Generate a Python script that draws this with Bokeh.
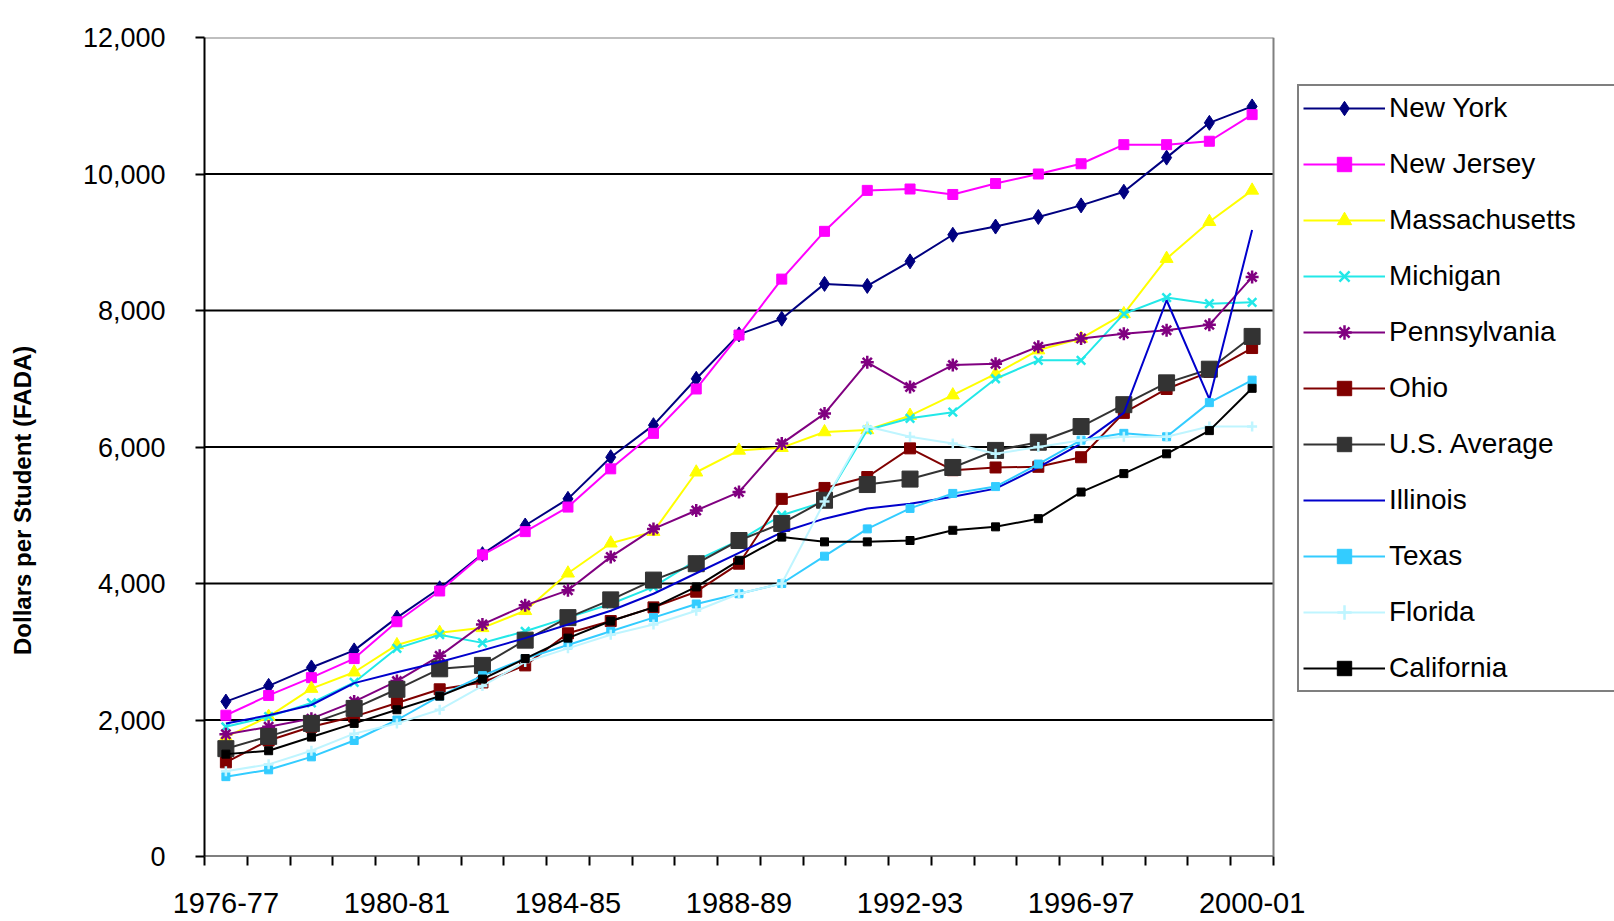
from bokeh.plotting import figure
from bokeh.models import (FixedTicker, CustomJSTickFormatter, Legend, LegendItem,
                          NumeralTickFormatter, Range1d, ColumnDataSource)
from bokeh.embed import file_html
from bokeh.resources import INLINE

years = ["1976-77", "1977-78", "1978-79", "1979-80", "1980-81", "1981-82", "1982-83",
         "1983-84", "1984-85", "1985-86", "1986-87", "1987-88", "1988-89", "1989-90",
         "1990-91", "1991-92", "1992-93", "1993-94", "1994-95", "1995-96", "1996-97",
         "1997-98", "1998-99", "1999-00", "2000-01"]
y_ticks = [0, 2000, 4000, 6000, 8000, 10000, 12000]

new_york = [2270, 2500, 2770, 3020, 3500, 3930, 4430, 4850, 5240, 5850, 6320, 7000, 7650,
            7880, 8390, 8360, 8720, 9110, 9230, 9370, 9540, 9740, 10240, 10750, 10990]
new_jersey = [2070, 2360, 2620, 2900, 3440, 3890, 4420, 4760, 5120, 5680, 6200, 6850, 7640,
              8460, 9160, 9760, 9780, 9700, 9860, 10000, 10150, 10430, 10430, 10480, 10870]
massachusetts = [1750, 2050, 2460, 2700, 3100, 3280, 3350, 3600, 4150, 4590, 4760, 5630, 5950,
                 5990, 6220, 6250, 6460, 6760, 7070, 7420, 7590, 7950, 8760, 9300, 9760]
michigan = [1900, 2050, 2250, 2550, 3050, 3250, 3130, 3300, 3500, 3700, 3950, 4340, 4630,
            5000, 5200, 6250, 6420, 6510, 7000, 7270, 7270, 7950, 8190, 8100, 8120]
pennsylvania = [1790, 1900, 2020, 2270, 2570, 2940, 3400, 3680, 3900, 4390, 4800, 5070, 5340,
                6050, 6490, 7240, 6880, 7200, 7220, 7470, 7590, 7660, 7710, 7790, 8490]
ohio = [1380, 1700, 1900, 2050, 2250, 2450, 2550, 2800, 3270, 3450, 3650, 3880, 4290,
        5240, 5400, 5560, 5980, 5660, 5700, 5710, 5850, 6500, 6850, 7100, 7450]
us_average = [1580, 1760, 1950, 2170, 2450, 2750, 2800, 3170, 3500, 3760, 4050, 4290, 4630,
              4880, 5220, 5450, 5530, 5700, 5950, 6070, 6300, 6620, 6940, 7140, 7620]
illinois = [1950, 2070, 2220, 2540, 2700, 2850, 3020, 3200, 3400, 3600, 3850, 4150, 4450,
            4750, 4950, 5100, 5170, 5270, 5390, 5700, 6050, 6500, 8150, 6700, 9180]
texas = [1170, 1270, 1460, 1700, 2000, 2350, 2650, 2900, 3100, 3300, 3500, 3700, 3850,
         4000, 4400, 4800, 5100, 5320, 5420, 5750, 6100, 6200, 6150, 6650, 6980]
florida = [1250, 1350, 1550, 1800, 1950, 2150, 2500, 2850, 3050, 3250, 3400, 3600, 3850,
           4000, 5200, 6300, 6150, 6050, 5900, 6000, 6100, 6150, 6150, 6300, 6300]
california = [1500, 1550, 1750, 1950, 2150, 2350, 2600, 2900, 3200, 3450, 3650, 3950, 4340,
              4680, 4610, 4610, 4630, 4780, 4830, 4950, 5340, 5610, 5900, 6240, 6860]

series = [
    ("New York", new_york, "#000080", "diamond", 15),
    ("New Jersey", new_jersey, "#FF00FF", "square", 10),
    ("Massachusetts", massachusetts, "#FFFF00", "triangle", 13),
    ("Michigan", michigan, "#22E8E8", "x", 12),
    ("Pennsylvania", pennsylvania, "#800080", "asterisk", 13),
    ("Ohio", ohio, "#800000", "square", 11),
    ("U.S. Average", us_average, "#333333", "square", 16),
    ("Illinois", illinois, "#0000CC", None, 0),
    ("Texas", texas, "#33CCFF", "square", 8),
    ("Florida", florida, "#BFF5FF", "cross", 10),
    ("California", california, "#000000", "square", 8),
]

n = len(years)
xs = [i + 0.5 for i in range(n)]

FONT = "Liberation Sans"

W, H = 1614, 921
LEFT, TOP, BOTTOM = 204, 37, 65
PLOT_RIGHT = 1273            # right edge of the drawn plot area (px)
x_max = n * (W - LEFT) / (PLOT_RIGHT - LEFT)   # frame extends to the page edge for the legend

p = figure(width=W, height=H, output_backend="svg", toolbar_location=None,
           x_range=Range1d(0, x_max), y_range=Range1d(0, y_ticks[-1]),
           min_border_left=LEFT, min_border_right=0, min_border_top=TOP,
           min_border_bottom=BOTTOM)
p.background_fill_color = "white"
p.outline_line_color = None

# x axis (labels at category centres, tick marks at category boundaries)
p.xaxis.ticker = FixedTicker(ticks=[i + 0.5 for i in range(0, n, 4)],
                             minor_ticks=list(range(0, n + 1)))
p.xaxis.formatter = CustomJSTickFormatter(args=dict(labels=years),
                                          code="return labels[Math.round(tick - 0.5)];")
p.xaxis.major_tick_out = 0
p.xaxis.major_tick_in = 0
p.xaxis.minor_tick_out = 9
p.xaxis.minor_tick_in = 0
p.xaxis.minor_tick_line_color = "black"
p.xaxis.minor_tick_line_width = 2
p.xaxis.axis_line_color = None
p.xaxis.major_label_text_font = FONT
p.xaxis.major_label_text_font_size = "29px"
p.xaxis.major_label_text_color = "black"
p.xaxis.major_label_standoff = 27

# y axis
p.yaxis.ticker = FixedTicker(ticks=y_ticks)
p.yaxis.formatter = NumeralTickFormatter(format="0,0")
p.yaxis.major_tick_out = 9
p.yaxis.major_tick_in = 0
p.yaxis.minor_tick_out = 0
p.yaxis.minor_tick_in = 0
p.yaxis.major_tick_line_width = 2
p.yaxis.axis_line_color = "black"
p.yaxis.axis_line_width = 2
p.yaxis.major_label_text_font = FONT
p.yaxis.major_label_text_font_size = "27px"
p.yaxis.major_label_text_color = "black"
p.yaxis.major_label_standoff = 30
p.yaxis.axis_label = "Dollars per Student (FADA)" + "\u00a0" * 16
p.yaxis.axis_label_text_font = FONT
p.yaxis.axis_label_text_font_size = "24px"
p.yaxis.axis_label_text_font_style = "bold"
p.yaxis.axis_label_text_color = "black"
p.yaxis.axis_label_standoff = 44

p.xgrid.grid_line_color = None
p.ygrid.grid_line_color = None

# plot-area lines: gridlines, x axis line, top and right borders
mid = y_ticks[1:-1]
p.segment(x0=[0] * len(mid), y0=mid, x1=[n] * len(mid), y1=mid,
          line_color="black", line_width=2)
p.segment(x0=[0], y0=[0], x1=[n], y1=[0], line_color="black", line_width=2)
p.segment(x0=[0, n], y0=[y_ticks[-1], 0], x1=[n, n], y1=[y_ticks[-1], y_ticks[-1]],
          line_color="#808080", line_width=2)

items = []
for name, vals, color, marker, size in series:
    src = ColumnDataSource(dict(x=xs, y=vals))
    rends = [p.line("x", "y", source=src, line_color=color, line_width=2)]
    if marker is not None:
        if marker in ("x", "asterisk", "cross"):
            r = p.scatter("x", "y", source=src, marker=marker, size=size,
                          line_color=color, line_width=2.5)
        else:
            r = p.scatter("x", "y", source=src, marker=marker, size=size,
                          fill_color=color, line_color=color)
        rends.append(r)
    items.append(LegendItem(label=name, renderers=rends))

legend = Legend(items=items, location=(1297 - LEFT, (H - BOTTOM) - 692))
legend.label_text_font = FONT
legend.label_text_font_size = "28px"
legend.label_text_color = "black"
legend.label_height = 36
legend.label_width = 250
legend.glyph_height = 36
legend.glyph_width = 82
legend.spacing = 20
legend.padding = 4
legend.margin = 0
legend.label_standoff = 4
legend.border_line_color = "black"
legend.border_line_width = 2
legend.background_fill_color = "white"
legend.background_fill_alpha = 1
p.add_layout(legend, "center")

open("out.html", "w").write(file_html(p, INLINE))
